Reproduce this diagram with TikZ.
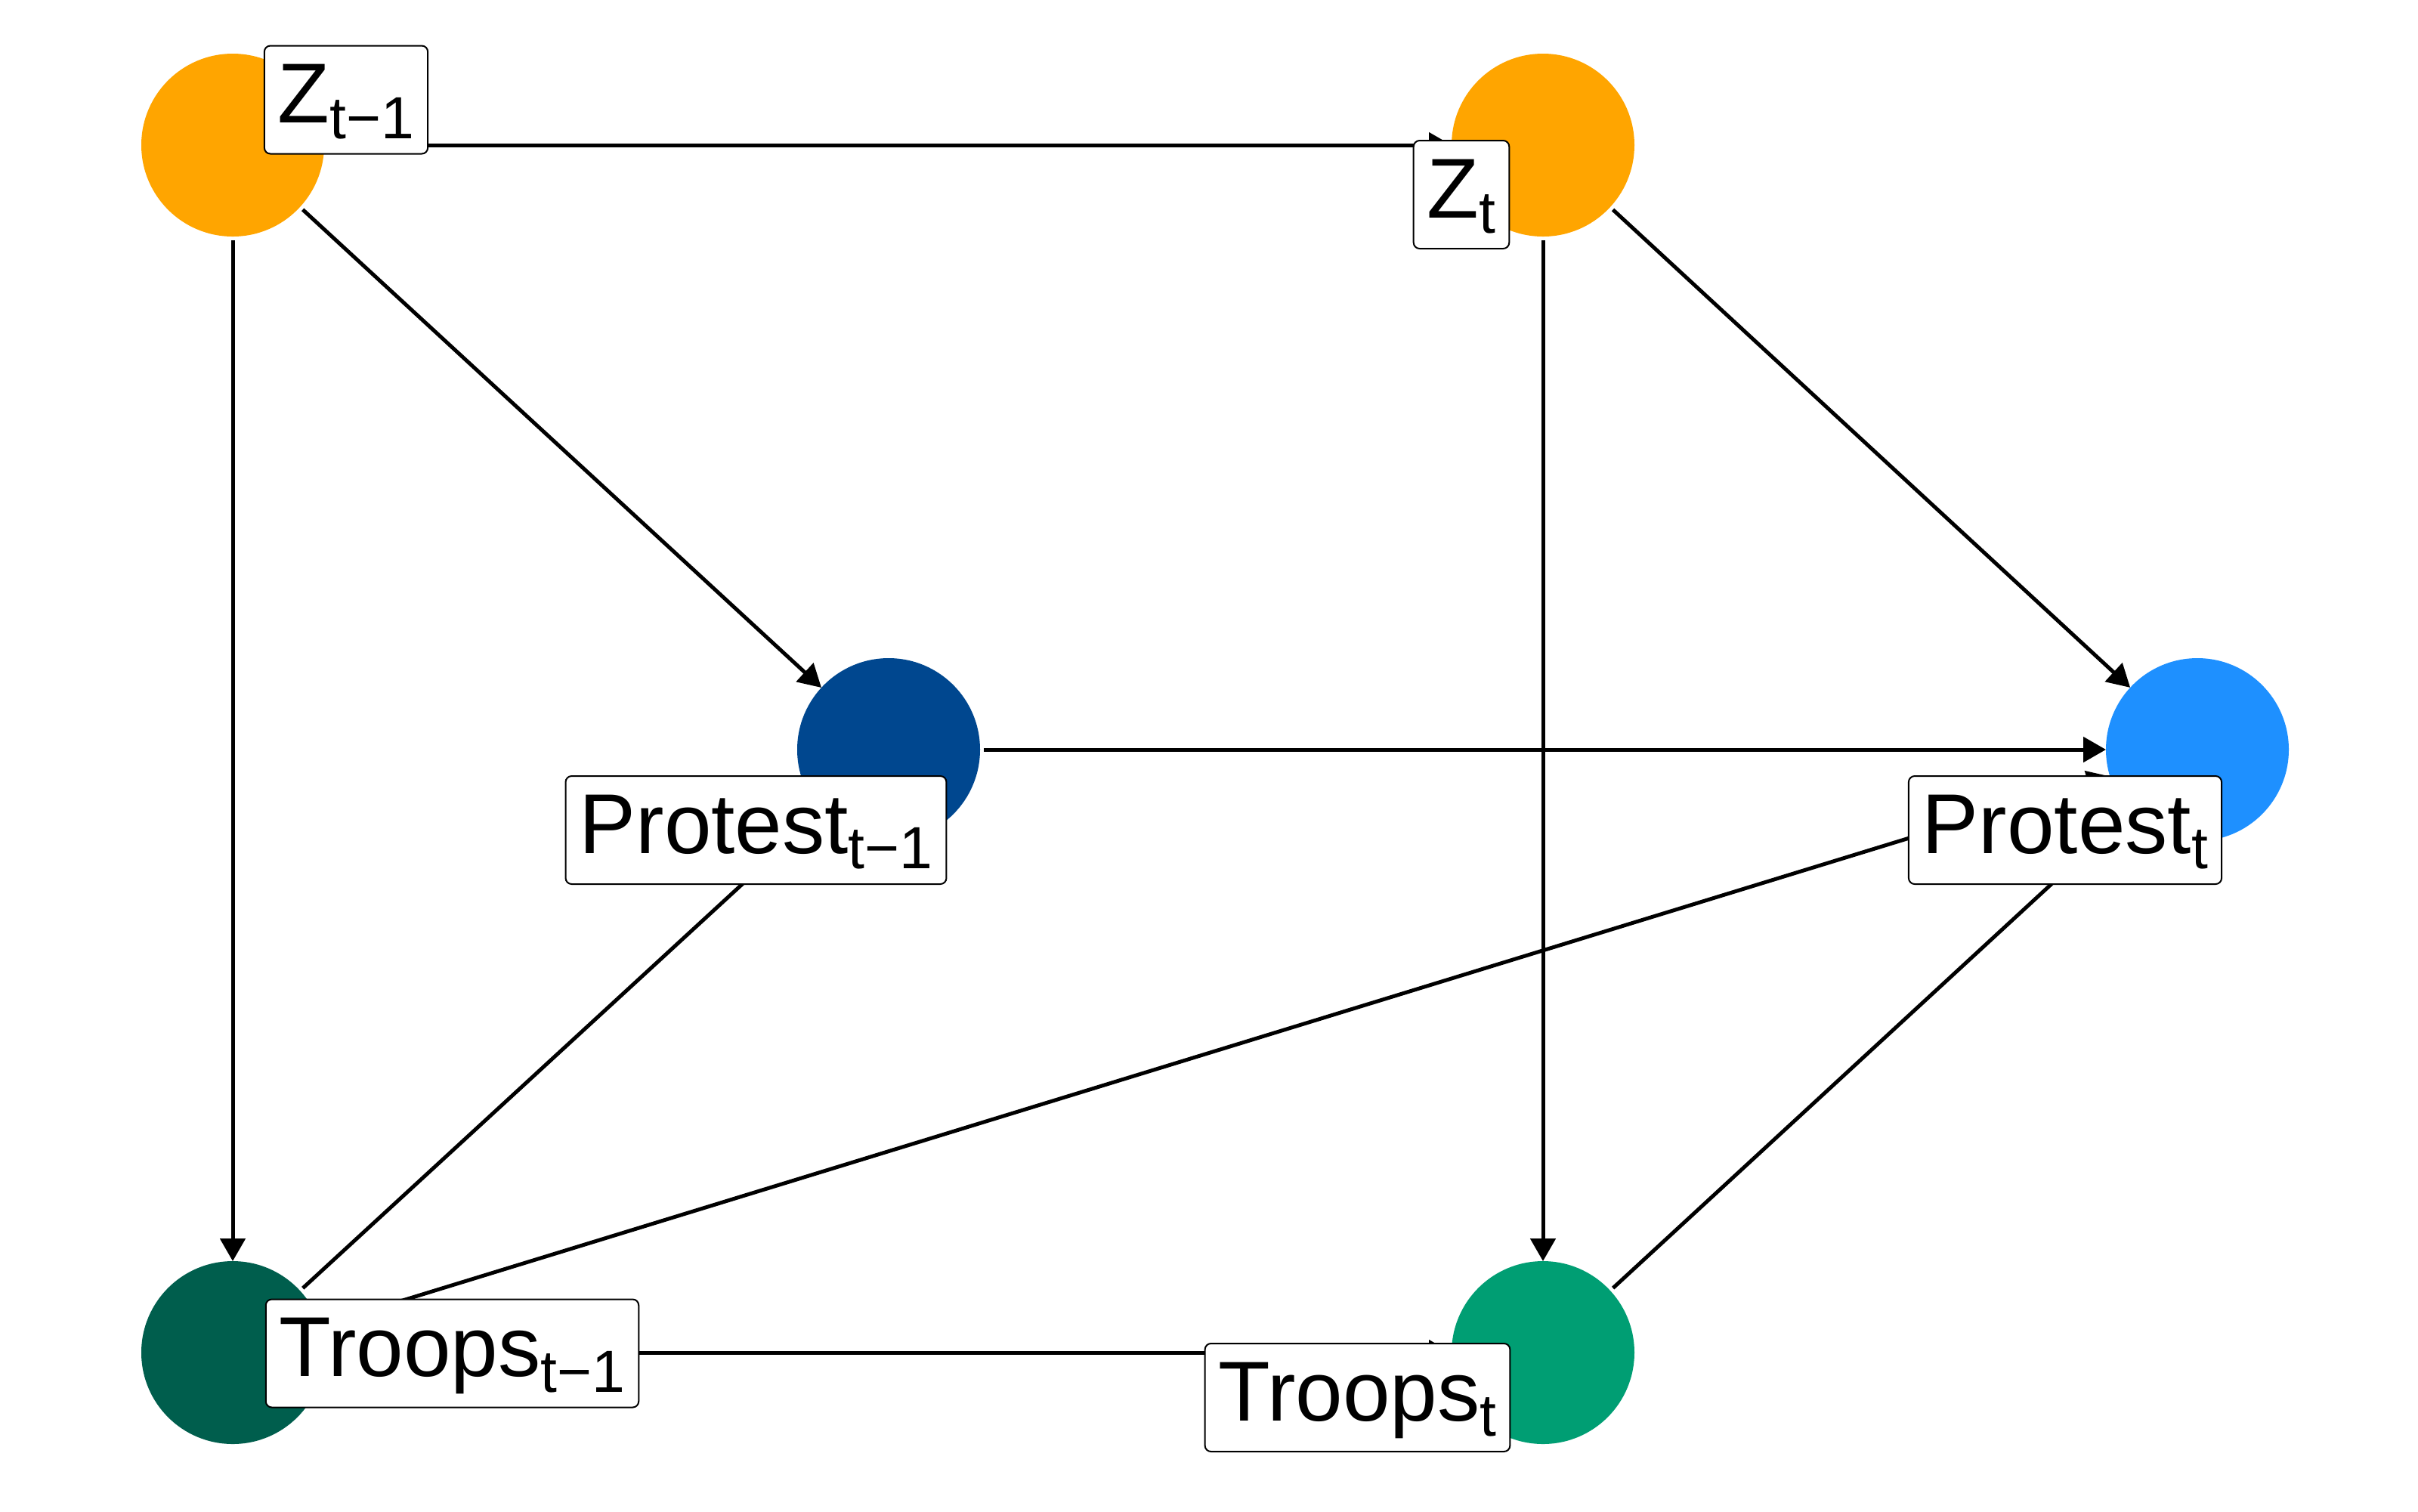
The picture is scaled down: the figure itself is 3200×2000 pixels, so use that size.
\documentclass[tikz,border=0pt]{standalone}
\usepackage{fontspec}
\setmainfont{Liberation Sans}
\usetikzlibrary{arrows.meta}
\definecolor{zcol}{HTML}{FFA500}
\definecolor{pcolA}{HTML}{00478F}
\definecolor{pcolB}{HTML}{1E90FF}
\definecolor{tcolA}{HTML}{005E4D}
\definecolor{tcolB}{HTML}{009E73}
\newcommand\mysub[1]{\raisebox{-2.05mm}{\fontsize{22.4}{26}\selectfont #1}}
\begin{document}
\begin{tikzpicture}[x=0.1mm,y=-0.1mm,
  var/.style={circle,minimum size=24.2mm,inner sep=0pt,outer sep=0pt,draw=none},
  edge/.style={line width=0.5mm,-{Triangle[length=3mm,width=3.3mm]},shorten <=0.5mm},
  lab/.style={draw=black,line width=0.2mm,rounded corners=0.8mm,fill=white,
    inner xsep=1.8mm,inner ysep=2.2mm,text height=8mm,text depth=1.9mm,
    font=\fontsize{32}{38}\selectfont}]
\useasboundingbox[fill=white] (0,0) rectangle (3200,2000);
% variables
\node[var,fill=zcol]  (z1) at (308,192) {};
\node[var,fill=zcol]  (z2) at (2042,192) {};
\node[var,fill=pcolA] (p1) at (1176,992) {};
\node[var,fill=pcolB] (p2) at (2908,992) {};
\node[var,fill=tcolA] (t1) at (308,1790) {};
\node[var,fill=tcolB] (t2) at (2042,1790) {};
% edges
\draw[edge] (z1) -- (z2);
\draw[edge] (z1) -- (p1);
\draw[edge] (z1) -- (t1);
\draw[edge] (z2) -- (t2);
\draw[edge] (z2) -- (p2);
\draw[edge] (p1) -- (p2);
\draw[edge] (t1) -- (p2);
\draw[edge] (t1) -- (t2);
\draw[edge] (t1) -- (p1);
\draw[edge] (t2) -- (p2);
% labels
\node[lab] (lz1) at (458,132) {Z\mysub{t−1}};
\node[lab] (lz2) at (1934,257.5) {Z\mysub{t}};
\node[lab] (lp1) at (1000.5,1098.5) {Protest\mysub{t−1}};
\node[lab] (lp2) at (2733,1098.5) {Protest\mysub{t}};
\node[lab] (lt1) at (598.5,1791) {Troops\mysub{t−1}};
\node[lab] (lt2) at (1796.5,1849.5) {Troops\mysub{t}};
\end{tikzpicture}
\end{document}
